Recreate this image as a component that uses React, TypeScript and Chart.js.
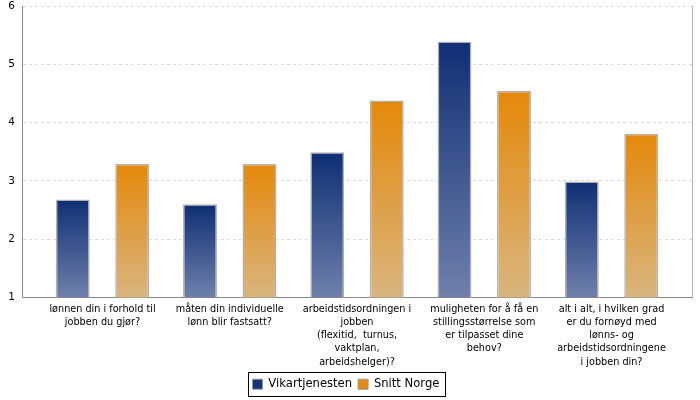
import React, { useEffect, useRef } from "react";
import { Chart, registerables } from "chart.js";

Chart.register(...registerables);

const categories: string[][] = [
  ["lønnen din i forhold til", "jobben du gjør?"],
  ["måten din individuelle", "lønn blir fastsatt?"],
  ["arbeidstidsordningen i", "jobben", "(flexitid,  turnus,", "vaktplan,", "arbeidshelger)?"],
  ["muligheten for å få en", "stillingsstørrelse som", "er tilpasset dine", "behov?"],
  ["alt i alt, i hvilken grad", "er du fornøyd med", "lønns- og", "arbeidstidsordningene", "i jobben din?"],
];

const seriesNames = ["Vikartjenesten", "Snitt Norge"];
const vikartjenesten = [2.68, 2.6, 3.49, 5.39, 2.99];
const snittNorge = [3.29, 3.29, 4.38, 4.54, 3.81];

const yMin = 1;
const yMax = 6;

const blueTop = "#0f2f74";
const blueBottom = "#6f80ab";
const orangeTop = "#e5890a";
const orangeBottom = "#d8b57f";

const gradient = (top: string, bottom: string) => (ctx: any) => {
  const chart = ctx.chart;
  const area = chart.chartArea;
  if (!area || ctx.type !== "data") return top;
  const y = chart.scales.y;
  const v = ctx.raw as number;
  const y0 = y.getPixelForValue(v);
  const y1 = y.getPixelForValue(y.min);
  if (!isFinite(y0) || !isFinite(y1) || y0 === y1) return top;
  const g = chart.ctx.createLinearGradient(0, y0, 0, y1);
  g.addColorStop(0, top);
  g.addColorStop(1, bottom);
  return g;
};

const framePlugin = {
  id: "frame",
  afterDraw(chart: any) {
    const { ctx, chartArea } = chart;
    ctx.save();
    ctx.strokeStyle = "#b4b4b4";
    ctx.lineWidth = 1;
    ctx.beginPath();
    ctx.moveTo(Math.round(chartArea.right) + 0.5, chartArea.top);
    ctx.lineTo(Math.round(chartArea.right) + 0.5, chartArea.bottom);
    ctx.stroke();
    const lg = chart.legend;
    if (lg && lg.legendHitBoxes && lg.legendHitBoxes.length) {
      let l = Infinity, r = -Infinity, t = Infinity, b = -Infinity;
      for (const h of lg.legendHitBoxes) {
        l = Math.min(l, h.left);
        r = Math.max(r, h.left + h.width);
        t = Math.min(t, h.top);
        b = Math.max(b, h.top + h.height);
      }
      ctx.strokeStyle = "#000";
      ctx.strokeRect(Math.round(l - 5) + 0.5, Math.round(t - 6) + 0.5, Math.round(r - l + 10), Math.round(b - t + 12));
    }
    ctx.restore();
  },
};

export default function App() {
  const ref = useRef<HTMLCanvasElement | null>(null);
  useEffect(() => {
    if (!ref.current) return;
    Chart.defaults.font.family = "'DejaVu Sans', sans-serif";
    Chart.defaults.color = "#000";
    const chart = new Chart(ref.current, {
      type: "bar",
      data: {
        labels: categories as any,
        datasets: [
          {
            label: seriesNames[0],
            data: vikartjenesten,
            backgroundColor: gradient(blueTop, blueBottom) as any,
            borderColor: "#b0b0b0",
            borderWidth: 1.5,
          },
          {
            label: seriesNames[1],
            data: snittNorge,
            backgroundColor: gradient(orangeTop, orangeBottom) as any,
            borderColor: "#b0b0b0",
            borderWidth: 1.5,
          },
        ],
      },
      options: {
        animation: false,
        responsive: false,
        maintainAspectRatio: false,
        layout: { padding: { left: 0, right: 8, top: 6, bottom: 0 } },
        datasets: { bar: { categoryPercentage: 0.935, barPercentage: 0.57 } } as any,
        plugins: {
          tooltip: { enabled: false },
          legend: {
            position: "bottom",
            labels: {
              font: { size: 11.6 },
              boxWidth: 10,
              boxHeight: 10,
              padding: 6,
              generateLabels: () => [
                { text: seriesNames[0], fillStyle: "#15347a", strokeStyle: "#999", lineWidth: 1, datasetIndex: 0 } as any,
                { text: seriesNames[1], fillStyle: "#e68a0b", strokeStyle: "#999", lineWidth: 1, datasetIndex: 1 } as any,
              ],
            },
          },
        },
        scales: {
          x: {
            grid: { display: false, drawTicks: false },
            border: { display: true, color: "#888", width: 1 },
            ticks: { font: { size: 9.7, lineHeight: 1.37 }, padding: 5, maxRotation: 0, autoSkip: false },
            afterFit: (s: any) => {
              s.height = 75;
              s.paddingLeft = 0;
              s.paddingRight = 0;
            },
            afterBuildTicks: (s: any) => {
              s._startValue = -0.6325;
              s._valueRange = 5.265;
            },
          },
          y: {
            min: yMin,
            max: yMax,
            beginAtZero: false,
            ticks: { stepSize: 1, font: { size: 10.5 }, padding: 7 },
            grid: { color: "#dcdcdc", drawTicks: false },
            border: { display: true, color: "#888", width: 1, dash: [3, 3] },
            afterFit: (s: any) => {
              s.width = 22;
              s.paddingTop = 0;
              s.paddingBottom = 0;
            },
          },
        },
      },
      plugins: [framePlugin],
    });
    return () => chart.destroy();
  }, []);
  return (
    <div style={{ position: "absolute", left: 0, top: 0, width: 700, height: 400, background: "#fff" }}>
      <canvas ref={ref} width={700} height={400} style={{ display: "block" }} />
    </div>
  );
}
